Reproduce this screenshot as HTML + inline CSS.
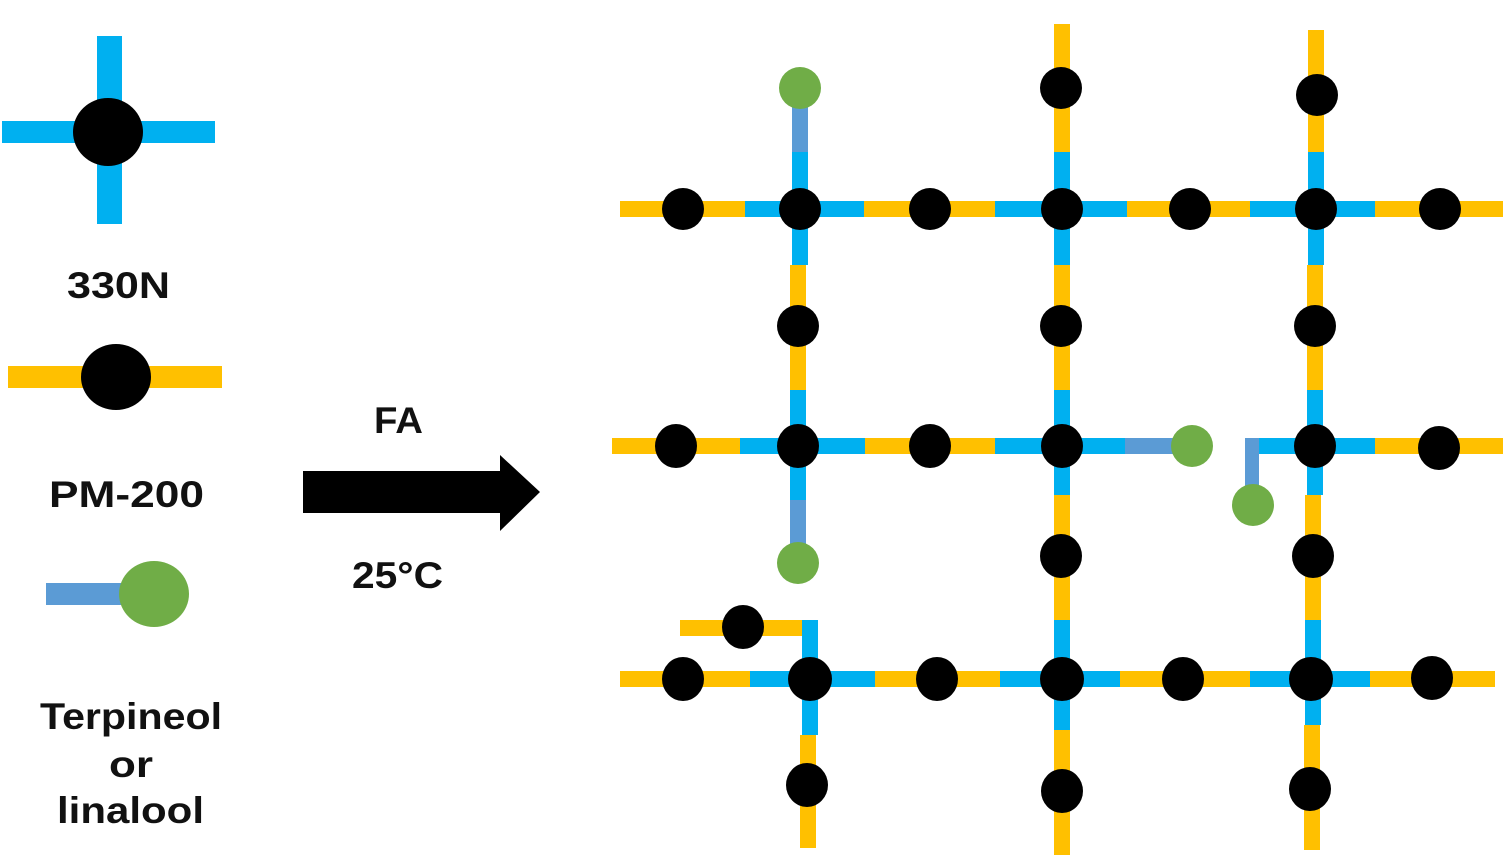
<!DOCTYPE html>
<html><head><meta charset="utf-8"><style>
html,body{margin:0;padding:0;background:#fff;}
svg{display:block;}
text{font-family:"Liberation Sans",sans-serif;font-weight:bold;fill:#111;}
</style></head><body>
<svg width="1506" height="866" viewBox="0 0 1506 866" xmlns="http://www.w3.org/2000/svg">
<!-- Legend -->
<rect x="2" y="121" width="213" height="22" fill="#00B0F0"/>
<rect x="97" y="36" width="25" height="188" fill="#00B0F0"/>
<ellipse cx="108" cy="132" rx="35" ry="34" fill="#000"/>
<text x="67" y="298" font-size="37" textLength="103" lengthAdjust="spacingAndGlyphs">330N</text>
<rect x="8" y="366" width="214" height="22" fill="#FFC000"/>
<ellipse cx="116" cy="377" rx="35" ry="33" fill="#000"/>
<text x="49" y="507" font-size="37" textLength="155" lengthAdjust="spacingAndGlyphs">PM-200</text>
<rect x="46" y="583" width="104" height="22" fill="#5B9BD5"/>
<ellipse cx="154" cy="594" rx="35" ry="33" fill="#70AD47"/>
<text x="40" y="729" font-size="37" textLength="182" lengthAdjust="spacingAndGlyphs">Terpineol</text>
<text x="109" y="777" font-size="37" textLength="44" lengthAdjust="spacingAndGlyphs">or</text>
<text x="57" y="823" font-size="37" textLength="147" lengthAdjust="spacingAndGlyphs">linalool</text>
<!-- Arrow -->
<polygon points="303,471 500,471 500,455 540,492 500,531 500,513 303,513" fill="#000"/>
<text x="374" y="433" font-size="37" textLength="49" lengthAdjust="spacingAndGlyphs">FA</text>
<text x="352" y="588" font-size="37" textLength="91" lengthAdjust="spacingAndGlyphs">25°C</text>

<g>
<rect x="620" y="201" width="125" height="16" fill="#FFC000"/>
<rect x="745" y="201" width="119" height="16" fill="#00B0F0"/>
<rect x="864" y="201" width="131" height="16" fill="#FFC000"/>
<rect x="995" y="201" width="132" height="16" fill="#00B0F0"/>
<rect x="1127" y="201" width="123" height="16" fill="#FFC000"/>
<rect x="1250" y="201" width="125" height="16" fill="#00B0F0"/>
<rect x="1375" y="201" width="128" height="16" fill="#FFC000"/>
<rect x="612" y="438" width="128" height="16" fill="#FFC000"/>
<rect x="740" y="438" width="125" height="16" fill="#00B0F0"/>
<rect x="865" y="438" width="130" height="16" fill="#FFC000"/>
<rect x="995" y="438" width="130" height="16" fill="#00B0F0"/>
<rect x="1125" y="438" width="60" height="16" fill="#5B9BD5"/>
<rect x="1245" y="438" width="15" height="16" fill="#5B9BD5"/>
<rect x="1245" y="438" width="14" height="60" fill="#5B9BD5"/>
<rect x="1259" y="438" width="116" height="16" fill="#00B0F0"/>
<rect x="1375" y="438" width="128" height="16" fill="#FFC000"/>
<rect x="620" y="671" width="130" height="16" fill="#FFC000"/>
<rect x="750" y="671" width="125" height="16" fill="#00B0F0"/>
<rect x="875" y="671" width="125" height="16" fill="#FFC000"/>
<rect x="1000" y="671" width="120" height="16" fill="#00B0F0"/>
<rect x="1120" y="671" width="130" height="16" fill="#FFC000"/>
<rect x="1250" y="671" width="120" height="16" fill="#00B0F0"/>
<rect x="1370" y="671" width="125" height="16" fill="#FFC000"/>
<rect x="680" y="620" width="125" height="16" fill="#FFC000"/>
<rect x="802" y="620" width="16" height="115" fill="#00B0F0"/>
<rect x="800" y="735" width="16" height="113" fill="#FFC000"/>
<rect x="792" y="100" width="16" height="52" fill="#5B9BD5"/>
<rect x="792" y="152" width="16" height="113" fill="#00B0F0"/>
<rect x="790" y="265" width="16" height="125" fill="#FFC000"/>
<rect x="790" y="390" width="16" height="110" fill="#00B0F0"/>
<rect x="790" y="500" width="16" height="50" fill="#5B9BD5"/>
<rect x="1054" y="24" width="16" height="128" fill="#FFC000"/>
<rect x="1054" y="152" width="16" height="113" fill="#00B0F0"/>
<rect x="1054" y="265" width="16" height="125" fill="#FFC000"/>
<rect x="1054" y="390" width="16" height="105" fill="#00B0F0"/>
<rect x="1054" y="495" width="16" height="125" fill="#FFC000"/>
<rect x="1054" y="620" width="16" height="110" fill="#00B0F0"/>
<rect x="1054" y="730" width="16" height="125" fill="#FFC000"/>
<rect x="1308" y="30" width="16" height="122" fill="#FFC000"/>
<rect x="1308" y="152" width="16" height="113" fill="#00B0F0"/>
<rect x="1307" y="265" width="16" height="125" fill="#FFC000"/>
<rect x="1307" y="390" width="16" height="105" fill="#00B0F0"/>
<rect x="1305" y="495" width="16" height="125" fill="#FFC000"/>
<rect x="1305" y="620" width="16" height="105" fill="#00B0F0"/>
<rect x="1304" y="725" width="16" height="125" fill="#FFC000"/>
</g>
<g fill="#000">
<ellipse cx="683" cy="209" rx="21" ry="21"/>
<ellipse cx="800" cy="209" rx="21" ry="21"/>
<ellipse cx="930" cy="209" rx="21" ry="21"/>
<ellipse cx="1062" cy="209" rx="21" ry="21"/>
<ellipse cx="1190" cy="209" rx="21" ry="21"/>
<ellipse cx="1316" cy="209" rx="21" ry="21"/>
<ellipse cx="1440" cy="209" rx="21" ry="21"/>
<ellipse cx="1061" cy="88" rx="21" ry="21"/>
<ellipse cx="1317" cy="95" rx="21" ry="21"/>
<ellipse cx="798" cy="326" rx="21" ry="21"/>
<ellipse cx="1061" cy="326" rx="21" ry="21"/>
<ellipse cx="1315" cy="326" rx="21" ry="21"/>
<ellipse cx="676" cy="446" rx="21" ry="22"/>
<ellipse cx="798" cy="446" rx="21" ry="22"/>
<ellipse cx="930" cy="446" rx="21" ry="22"/>
<ellipse cx="1062" cy="446" rx="21" ry="22"/>
<ellipse cx="1315" cy="446" rx="21" ry="22"/>
<ellipse cx="1439" cy="448" rx="21" ry="22"/>
<ellipse cx="1061" cy="556" rx="21" ry="22"/>
<ellipse cx="1313" cy="556" rx="21" ry="22"/>
<ellipse cx="743" cy="627" rx="21" ry="22"/>
<ellipse cx="683" cy="679" rx="21" ry="22"/>
<ellipse cx="810" cy="679" rx="22" ry="22"/>
<ellipse cx="937" cy="679" rx="21" ry="22"/>
<ellipse cx="1062" cy="679" rx="22" ry="22"/>
<ellipse cx="1183" cy="679" rx="21" ry="22"/>
<ellipse cx="1311" cy="679" rx="22" ry="22"/>
<ellipse cx="1432" cy="678" rx="21" ry="22"/>
<ellipse cx="807" cy="785" rx="21" ry="22"/>
<ellipse cx="1062" cy="791" rx="21" ry="22"/>
<ellipse cx="1310" cy="789" rx="21" ry="22"/>
</g>
<g fill="#70AD47">
<ellipse cx="800" cy="88" rx="21" ry="21"/>
<ellipse cx="798" cy="563" rx="21" ry="21"/>
<ellipse cx="1192" cy="446" rx="21" ry="21"/>
<ellipse cx="1253" cy="505" rx="21" ry="21"/>
</g>
</svg>
</body></html>
